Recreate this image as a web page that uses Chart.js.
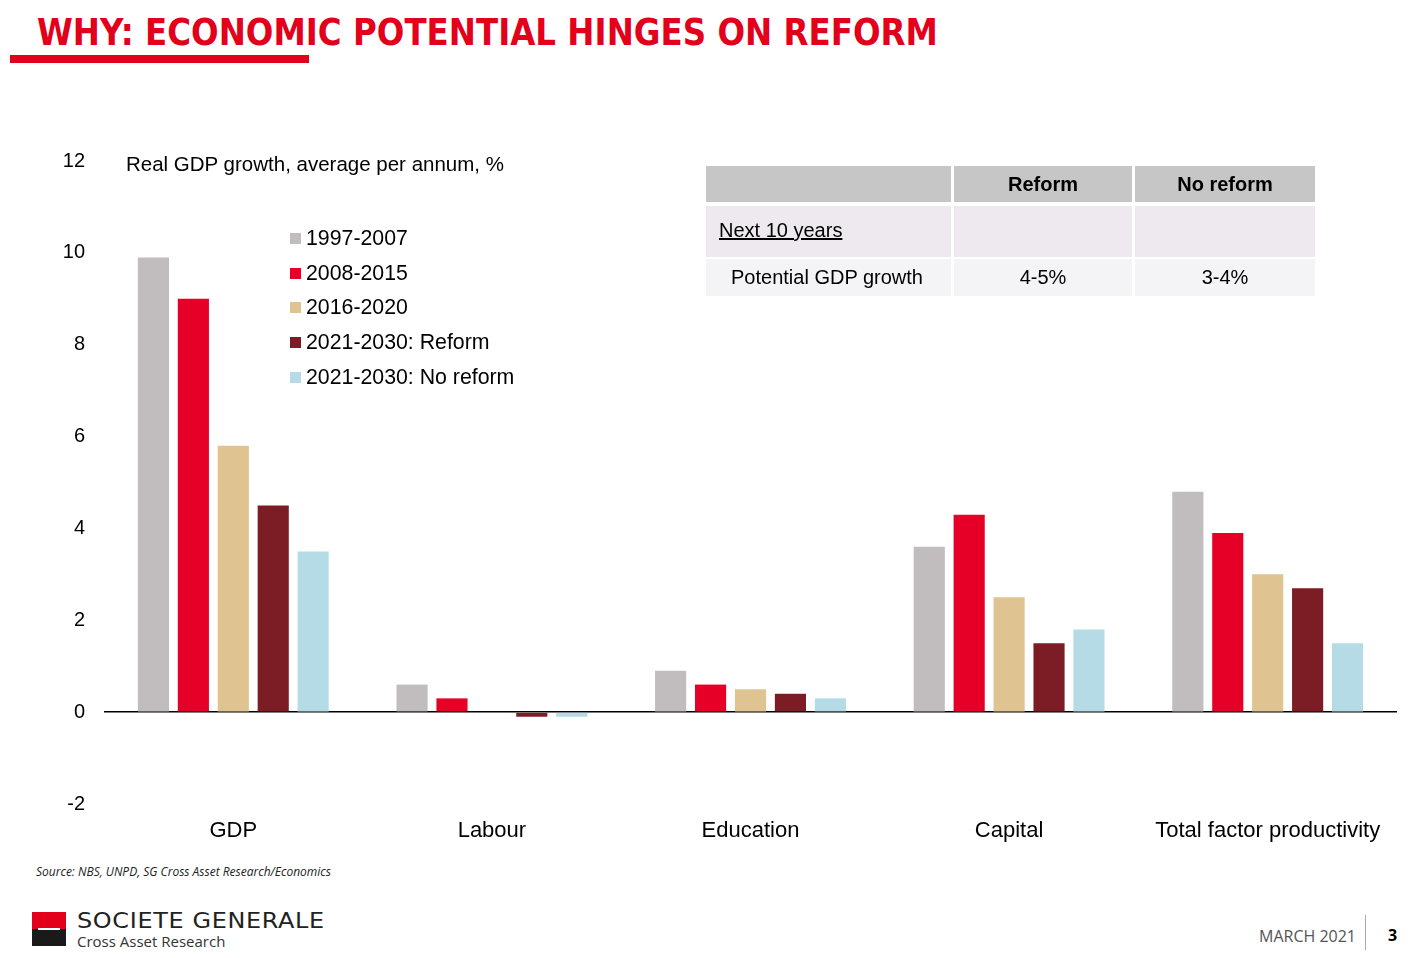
<!DOCTYPE html>
<html>
<head>
<meta charset="utf-8">
<script src="https://cdn.jsdelivr.net/npm/chart.js@4/dist/chart.umd.min.js"></script>
<style>
  body { margin: 0; width: 1410px; height: 958px; background: #fff; position: relative; overflow: hidden; font-family: "Liberation Sans", Arial, sans-serif; }
  .abs { position: absolute; white-space: nowrap; }
  #title { left: 37px; top: 10px; font-family: "DejaVu Sans", sans-serif; font-weight: bold; font-size: 38px; color: #e2001a; transform-origin: 0 0; }
  #titleBar { left: 10px; top: 55px; width: 299px; height: 8px; background: #e2001a; }
  #chartBox { left: 0; top: 130px; width: 1410px; height: 730px; }
  #subtitle { left: 126px; top: 152px; font-size: 20.5px; color: #000; }
  #legend { left: 290px; top: 221px; font-size: 21.3px; color: #000; }
  #legend div { height: 34.8px; display: flex; align-items: center; }
  #legend span.sw { display: inline-block; width: 11px; height: 11px; margin-right: 5px; }
  #tbl { left: 706px; top: 166px; border-collapse: separate; border-spacing: 0; font-size: 20px; }
  #tbl td { padding: 0; }
  #source { left: 36px; top: 863px; font-family: "Open Sans", sans-serif; font-style: italic; font-size: 12px; color: #222; }
  #logoRed { left: 32px; top: 912px; width: 34px; height: 17px; background: #e2001a; }
  #logoBlack { left: 32px; top: 929px; width: 34px; height: 17px; background: #1a1a1a; }
  #logoLine { left: 38px; top: 928px; width: 22px; height: 2px; background: #fff; }
  #sg { left: 77px; top: 908px; font-family: "DejaVu Sans", sans-serif; font-size: 22px; color: #222; letter-spacing: 0.6px; transform-origin: 0 0; }
  #car { left: 77px; top: 931px; font-family: "Open Sans", sans-serif; font-size: 15px; color: #333; }
  #date { left: 1259px; top: 925px; font-family: "Open Sans", sans-serif; font-size: 16px; color: #555; }
  #sep { left: 1365px; top: 915px; width: 1px; height: 35px; background: #aaa; }
  #page { left: 1388px; top: 924px; font-family: "Open Sans", sans-serif; font-weight: bold; font-size: 16px; color: #000; }
</style>
</head>
<body>
<div id="title" class="abs">WHY: ECONOMIC POTENTIAL HINGES ON REFORM</div>
<div id="titleBar" class="abs"></div>

<div id="chartBox" class="abs"><canvas id="chart" width="1410" height="730"></canvas></div>

<div id="subtitle" class="abs">Real GDP growth, average per annum, %</div>
<div id="legend" class="abs"></div>

<table id="tbl" class="abs">
  <tr style="height:36px">
    <td style="width:245px;background:#c7c6c6"></td>
    <td style="width:3px"></td>
    <td style="width:178px;background:#c7c6c6;text-align:center;font-weight:bold">Reform</td>
    <td style="width:3px"></td>
    <td style="width:180px;background:#c7c6c6;text-align:center;font-weight:bold">No reform</td>
  </tr>
  <tr style="height:4px"><td colspan="5"></td></tr>
  <tr style="height:51px">
    <td style="background:#ede9ee;padding-left:13px;text-decoration:underline;vertical-align:top;padding-top:13px">Next 10 years</td>
    <td></td>
    <td style="background:#ede9ee"></td>
    <td></td>
    <td style="background:#ede9ee"></td>
  </tr>
  <tr style="height:2px"><td colspan="5"></td></tr>
  <tr style="height:37px">
    <td style="background:#f4f3f6;padding-left:25px">Potential GDP growth</td>
    <td></td>
    <td style="background:#f4f3f6;text-align:center">4-5%</td>
    <td></td>
    <td style="background:#f4f3f6;text-align:center">3-4%</td>
  </tr>
</table>

<div id="source" class="abs">Source: NBS, UNPD, SG Cross Asset Research/Economics</div>
<div id="logoRed" class="abs"></div>
<div id="logoBlack" class="abs"></div>
<div id="logoLine" class="abs"></div>
<div id="sg" class="abs">SOCIETE GENERALE</div>
<div id="car" class="abs">Cross Asset Research</div>
<div id="date" class="abs">MARCH 2021</div>
<div id="sep" class="abs"></div>
<div id="page" class="abs">3</div>

<script>
const categories = ["GDP", "Labour", "Education", "Capital", "Total factor productivity"]
const seriesNames = ["1997-2007", "2008-2015", "2016-2020", "2021-2030: Reform", "2021-2030: No reform"]
const s1997_2007 = [9.9, 0.6, 0.9, 3.6, 4.8]
const s2008_2015 = [9.0, 0.3, 0.6, 4.3, 3.9]
const s2016_2020 = [5.8, 0.0, 0.5, 2.5, 3.0]
const sReform = [4.5, -0.1, 0.4, 1.5, 2.7]
const sNoReform = [3.5, -0.1, 0.3, 1.8, 1.5]
const seriesColors = ["#c1bcbd", "#e60028", "#dfc391", "#7c1c25", "#b5dce6"]
const yTicks = [-2, 0, 2, 4, 6, 8, 10, 12]

const seriesValues = [s1997_2007, s2008_2015, s2016_2020, sReform, sNoReform]

// fit title width
const title = document.querySelector("#title")
title.style.transform = `scaleX(${901 / title.offsetWidth})`
const sg = document.querySelector("#sg")
sg.style.transform = `scaleX(${248 / sg.offsetWidth})`

// legend
const legend = document.querySelector("#legend")
seriesNames.forEach((name, i) => {
    const row = document.createElement("div")
    row.innerHTML = `<span class="sw" style="background:${seriesColors[i]}"></span>${name}`
    legend.appendChild(row)
})

const myChart = new Chart(document.querySelector("#chart"), {
    type: "bar",
    data: {
        labels: categories,
        datasets: seriesNames.map((name, i) => ({
            label: name,
            data: seriesValues[i],
            backgroundColor: seriesColors[i],
            categoryPercentage: 0.772,
            barPercentage: 0.78
        }))
    },
    options: {
        responsive: false,
        animation: false,
        devicePixelRatio: 1,
        layout: { padding: { left: 0, right: 13, top: 10, bottom: 0 } },
        plugins: { legend: { display: false }, tooltip: { enabled: false } },
        scales: {
            x: {
                grid: { display: false },
                border: { display: false },
                ticks: { color: "#000", font: { family: "Liberation Sans", size: 22 }, padding: 6, maxRotation: 0 },
                afterFit: (s) => { s.height = 56 }
            },
            y: {
                min: -2,
                max: 12,
                afterBuildTicks: (s) => { s.ticks = yTicks.map((v) => ({ value: v })) },
                grid: {
                    drawTicks: false,
                    color: (c) => c.tick && c.tick.value === 0 ? "#000" : "rgba(0,0,0,0)",
                    lineWidth: 1.5
                },
                border: { display: false },
                ticks: { color: "#000", font: { family: "Liberation Sans", size: 20 }, padding: 19 },
                afterFit: (s) => { s.width = 104 }
            }
        }
    }
})
</script>
</body>
</html>
